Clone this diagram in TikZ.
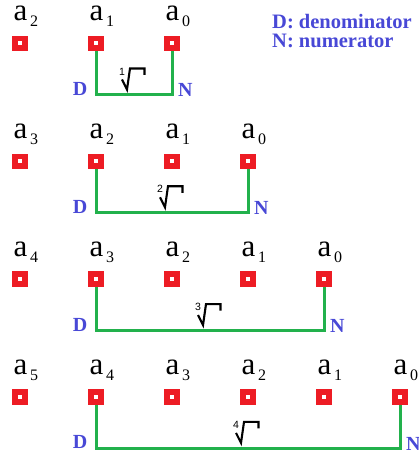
\documentclass[tikz,border=0pt]{standalone}
\usepackage{fontspec}
\setmainfont{Liberation Serif}
\newfontfamily\numfont{Liberation Sans}
\definecolor{sqred}{RGB}{237,28,36}
\definecolor{lgreen}{RGB}{34,177,76}
\definecolor{lblue}{RGB}{72,72,214}
\begin{document}
\begin{tikzpicture}[x=1pt,y=-1pt,
  sq/.style={fill=sqred,minimum width=15.5pt,minimum height=15.5pt,inner sep=0pt,
    path picture={\fill[white] (path picture bounding box.center) ++(-2,-2) rectangle ++(4,4);}},
  alab/.style={inner sep=0pt,font=\fontsize{31}{31}\selectfont},
  sublab/.style={inner sep=0pt,font=\fontsize{16}{16}\selectfont},
  dnlab/.style={inner sep=0pt,text=lblue,font=\fontsize{20}{20}\selectfont\bfseries},
  leg/.style={inner sep=0pt,text=lblue,font=\fontsize{20.5}{20.5}\selectfont\bfseries},
  gline/.style={draw=lgreen,line width=3pt},
  rad/.style={draw=black,line width=2.1pt,line join=miter},
  radnum/.style={inner sep=0pt,font=\numfont\fontsize{10.5}{10.5}\selectfont}]
\useasboundingbox (0,0) rectangle (419,454);
\node[leg,anchor=base west] (legD) at (272,29) {D: denominator};
\node[leg,anchor=base west] (legN) at (272,48) {N: numerator};
\foreach \r in {1,...,4}{
  \pgfmathsetmacro\S{43.5+117.8*(\r-1)}
  \pgfmathtruncatemacro\n{\r+1}
  \foreach \k in {0,...,\n}{
    \pgfmathtruncatemacro\idx{\n-\k}
    \pgfmathsetmacro\X{20+76*\k}
    \node[sq] (s\r-\k) at (\X,\S) {};
    \node[alab,anchor=base] (a\r-\k) at (\X+0.5,\S-22.5) {a};
    \node[sublab,anchor=base west] (i\r-\k) at (\X+10,\S-16.5) {\idx};
  }
  \pgfmathsetmacro\XN{20+76*\n}
  \pgfmathsetmacro\M{(96+\XN)/2}
  \coordinate (bl\r) at (96,\S+51.5);
  \draw[gline] (s\r-1.south) -- (bl\r) -| (s\r-\n.south);
  \node[dnlab,anchor=base east] (D\r) at (87.5,\S+52) {D};
  \node[dnlab,anchor=base west] (N\r) at (\XN+6,\S+53.5) {N};
  \draw[rad] (\M-12,\S+36) -- (\M-7,\S+46) -- (\M-4,\S+25) -- (\M+10.5,\S+25) -- (\M+10.5,\S+31.5);
  \node[radnum] (r\r) at (\M-12,\S+28) {\r};
}
\end{tikzpicture}
\end{document}
